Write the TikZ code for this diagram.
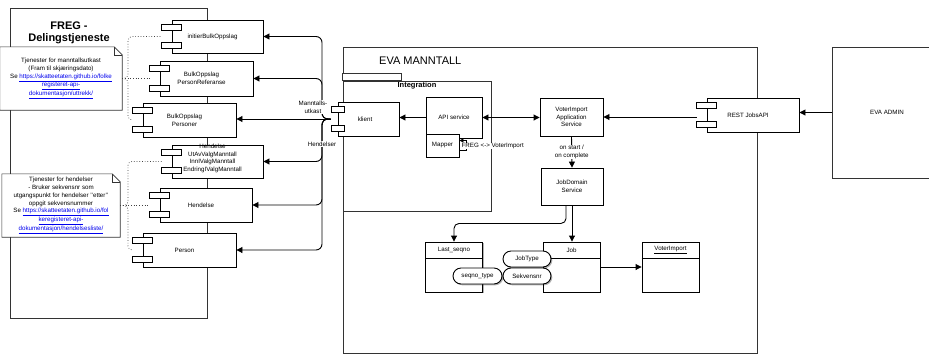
\documentclass[tikz,border=0pt]{standalone}
\usepackage{fontspec}
\setmainfont{Liberation Sans}
\usetikzlibrary{arrows.meta,shadows}
\definecolor{lnkblue}{HTML}{0000EE}
\newcommand\weblink[1]{\textcolor{lnkblue}{\underline{#1}}}
\newcommand\mkcomp[8]{%
  \node[compb, minimum width=#4, minimum height=#5, label={[comptext,#7]center:{#8}}] (#1) at (#2,#3) {};
  \draw[port] ([xshift=-#6pt, yshift=-5pt]#1.north west) rectangle ++({2*#6},6);
  \draw[port] ([xshift=-#6pt, yshift=5pt]#1.south west) rectangle ++({2*#6},-6);
}
\newcommand\mktable[4]{%
  \node[tbl] (#1) at (#2,#3) {};
  \draw[line width=0.9pt] ([yshift=-17pt]#1.north west) -- ([yshift=-17pt]#1.north east);
  \node[sm] (#1t) at ([yshift=-8.5pt]#1.north) {#4};
}
\newcommand\mknote[5]{%
  \node[notebox, minimum width=#4, minimum height=#5] (#1) at (#2,#3) {};
}
\begin{document}
\begin{tikzpicture}[x=1pt,y=-1pt,
  sm/.style={font=\fontsize{6.2}{7.7}\selectfont},
  shd/.style={drop shadow={shadow xshift=1.3pt,shadow yshift=-1.3pt,opacity=0.3,fill=black}},
  cont/.style={draw=black!80, line width=0.8pt, fill=white, shd, inner sep=0pt, sm},
  compb/.style={draw=black, line width=0.9pt, fill=white, shd, inner sep=0pt},
  box/.style={draw=black, line width=0.9pt, fill=white, shd, inner sep=1pt, sm, align=center},
  port/.style={draw=black, line width=0.9pt, fill=white},
  comptext/.style={sm, align=center, anchor=center},
  tbl/.style={draw=black, line width=0.9pt, fill=white, shd, minimum width=57, minimum height=50, inner sep=0pt},
  pill/.style={box, rounded corners=8pt, minimum width=48, minimum height=16, inner sep=0pt},
  notetext/.style={sm, align=center, fill=white, inner sep=0pt},
  noteline/.style={draw=black!80, line width=0.6pt},
  arr/.style={line width=0.9pt, -{Triangle[length=6pt,width=6pt]}},
  darr/.style={line width=0.9pt, {Triangle[length=6pt,width=6pt]}-{Triangle[length=6pt,width=6pt]}},
  dots/.style={dotted, line width=0.7pt, black!75},
  elabel/.style={sm, fill=white, inner sep=0.5pt, align=center}]
\useasboundingbox (0,0) rectangle (929,354);
\clip (0,0) rectangle (929,354);

% ---------- containers ----------
\node[cont, minimum width=197, minimum height=310] (freg) at (108.5,163) {};
\node[font=\fontsize{11}{12}\selectfont\bfseries, align=center] (fregt) at (69,33) {FREG -\\Delingstjeneste};
\node[cont, minimum width=414, minimum height=306] (eva) at (550,200) {};
\node[font=\fontsize{11}{13}\selectfont, anchor=west, inner sep=0pt] (evat) at (379,61) {EVA MANNTALL};
\node[cont, minimum width=110, minimum height=131] (admin) at (887,112.5) {EVA ADMIN};
\node[cont, minimum width=148, minimum height=130] (integ) at (417,146) {};
\filldraw[draw=black!80, fill=white, line width=0.8pt] (integ.north west) -- ++(0,-7) -- ++(59,0) -- ++(0,7) -- cycle;
\node[font=\fontsize{7.5}{9}\selectfont\bfseries] (integt) at (417,86) {Integration};

% ---------- notes ----------
\node[notetext, minimum width=122, minimum height=63] (n1) at (61,78.5)
  {Tjenester for manntallsutkast\\(Fram til skjæringsdato)\\Se \weblink{https://skatteetaten.github.io/folke}\\\weblink{registeret-api-}\\\weblink{dokumentasjon/uttrekk/}};
\draw[noteline] (n1.north west) -- ([xshift=-8pt]n1.north east) -- ([yshift=-8pt]n1.north east) -- (n1.south east) -- (n1.south west) -- cycle;
\draw[noteline] ([xshift=-8pt]n1.north east) -- ([xshift=-8pt,yshift=-8pt]n1.north east) -- ([yshift=-8pt]n1.north east);

\node[notetext, minimum width=118, minimum height=63] (n2) at (61,205.5)
  {Tjenester for hendelser\\- Bruker sekvensnr som\\utgangspunkt for hendelser \symbol{39}\symbol{39}etter\symbol{39}\symbol{39}\\oppgit sekvensnummer\\Se \weblink{https://skatteetaten.github.io/fol}\\\weblink{keregisteret-api-}\\\weblink{dokumentasjon/hendelsesliste/}};
\draw[noteline] (n2.north west) -- ([xshift=-8pt]n2.north east) -- ([yshift=-8pt]n2.north east) -- (n2.south east) -- (n2.south west) -- cycle;
\draw[noteline] ([xshift=-8pt]n2.north east) -- ([xshift=-8pt,yshift=-8pt]n2.north east) -- ([yshift=-8pt]n2.north east);

% ---------- FREG components ----------
\mkcomp{c1}{217.5}{36.5}{91}{33}{10}{xshift=-5pt}{initierBulkOppslag}
\mkcomp{c2}{206.5}{78.5}{93}{35}{10}{xshift=-5pt}{BulkOppslag\\PersonReferanse}
\mkcomp{c3}{189.5}{120}{93}{34}{10}{xshift=-5pt}{BulkOppslag\\Personer}
\mkcomp{c4}{217.5}{161.5}{91}{33}{10}{xshift=-5pt,yshift=3pt}{Hendelse\\UtAvValgManntall\\InnIValgManntall\\EndringIValgManntall}
\mkcomp{c5}{206}{205}{92}{34}{10}{xshift=-5pt}{Hendelse}
\mkcomp{c6}{189.5}{250}{93}{34}{10}{xshift=-5pt}{Person}

% dotted note links
\coordinate (nd1) at (128,78.5);
\coordinate (nd2) at (128,205.5);
\draw[dots] (n1.east) -- ([xshift=-10pt]c2.west);
\draw[dots, rounded corners=4pt] (n1.east) -- (nd1) |- ([xshift=-10pt]c1.west);
\draw[dots, rounded corners=4pt] (n1.east) -- (nd1) |- ([xshift=-10pt]c3.west);
\draw[dots] (n2.east) -- ([xshift=-10pt]c5.west |- n2.east);
\draw[dots, rounded corners=4pt] (n2.east) -- (nd2) |- ([xshift=-10pt]c4.west);
\draw[dots, rounded corners=4pt] (n2.east) -- (nd2) |- ([xshift=-10pt]c6.west);

% ---------- EVA MANNTALL internals ----------
\mkcomp{klient}{368.5}{119}{61}{34}{6.5}{xshift=-3.5pt}{klient}
\node[box, minimum width=56, minimum height=41] (api) at (454,117.5) {API service};
\node[box, minimum width=33, minimum height=23] (mp) at (442.5,145.5) {Mapper};
\draw[line width=0.6pt, -{Triangle[length=4pt,width=4pt]}] ([yshift=-5pt]mp.east) -- ++(7,0) -- ++(0,-10) -- ([yshift=5pt]mp.east);
\node[elabel, anchor=west] (maplbl) at (461,146) {FREG <-> VoterImport};

\node[box, minimum width=63, minimum height=38] (va) at (571.5,117) {VoterImport\\Application\\Service};
\node[box, minimum width=62, minimum height=37] (jd) at (572,186.5) {JobDomain\\Service};
\mkcomp{rest}{753}{115}{92}{34}{10}{xshift=-5pt}{REST JobsAPI}

\mktable{ls}{454}{267}{Last\_seqno}
\mktable{job}{571.5}{267}{Job}
\mktable{vi}{670.5}{267}{\underline{VoterImport}}
\node[pill, minimum width=49] (sq) at (477.5,276) {seqno\_type};
\node[pill] (jt) at (527,259) {JobType};
\node[pill] (sk) at (527,276) {Sekvensnr};

% ---------- connectors ----------
\coordinate (bus) at (322,119);
\draw[arr, rounded corners=6pt] ([xshift=-7pt]klient.west) -- (bus) |- (c1.east);
\draw[arr, rounded corners=6pt] ([xshift=-7pt]klient.west) -- (bus) |- (c2.east);
\draw[arr] ([xshift=-7pt]klient.west) -- (c3.east |- klient.west);
\draw[arr, rounded corners=6pt] ([xshift=-7pt]klient.west) -- (bus) |- (c4.east);
\draw[arr, rounded corners=6pt] ([xshift=-7pt]klient.west) -- (bus) |- (c5.east);
\draw[arr, rounded corners=6pt] ([xshift=-7pt]klient.west) -- (bus) |- (c6.east);
\node[elabel] (lblm) at (313,107) {Manntalls-\\utkast};
\node[elabel] (lblh) at (322,144) {Hendelser};

\draw[arr] (api.west) -- (api.west -| klient.east);
\draw[darr] (api.east) -- (api.east -| va.west);
\draw[arr] ([xshift=-10pt]rest.west |- va.east) -- (va.east);
\draw[arr] (admin.west) -- (admin.west -| rest.east);
\draw[arr] (va.south) -- (jd.north) node[elabel, midway] (lbloc) {on start /\\on complete};
\draw[arr, rounded corners=5pt] ([xshift=-6pt]jd.south) -- ++(0,18) -| (ls.north);
\draw[arr] (jd.south) -- (jd.south |- job.north);
\draw[arr] (job.east) -- (vi.west);
\end{tikzpicture}
\end{document}
